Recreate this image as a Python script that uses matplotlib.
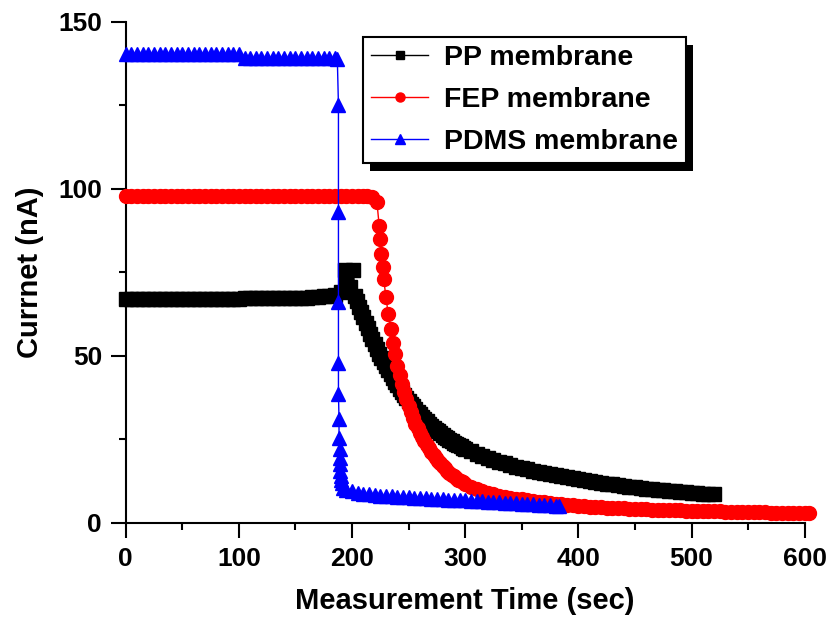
import numpy as np
import matplotlib
matplotlib.use('Agg')
import matplotlib.pyplot as plt
from matplotlib.patches import Rectangle
from matplotlib.ticker import MultipleLocator

# PP membrane (black squares)
pp_t = list(range(0, 191, 5)) + [194, 195, 198, 201, 203] + list(range(204, 301, 2)) + list(range(305, 521, 5))
pp_i = [67.0] * 21 + [67.2] * 10 + [67.3, 67.4, 67.5, 67.6, 67.8, 68.0, 68.3, 69.0] + \
       [75.6, 71.5, 70.5, 75.6, 68.0] + \
       [66.3, 64.7, 63.1, 61.5, 59.9, 58.3, 56.7, 55.1, 53.5, 52.1, 50.7, 49.4, 48.2, 47.0, 45.8,
        44.6, 43.4, 42.3, 41.2, 40.2, 39.3, 38.3, 37.4, 36.5, 35.7, 34.9, 34.1, 33.3, 32.5, 31.8,
        31.1, 30.4, 29.7, 29.1, 28.5, 27.9, 27.4, 26.8, 26.3, 25.8, 25.3, 24.9, 24.4, 24.0, 23.6,
        23.2, 22.9, 22.5, 22.2] + \
       [21.4, 20.7, 20.0, 19.4, 18.8, 18.3, 17.8, 17.3, 16.8, 16.4, 16.0, 15.6, 15.2, 14.9, 14.5,
        14.2, 13.9, 13.6, 13.3, 13.0, 12.7, 12.5, 12.2, 12.0, 11.7, 11.5, 11.3, 11.1, 10.9, 10.7,
        10.5, 10.3, 10.1, 10.0, 9.8, 9.7, 9.5, 9.4, 9.2, 9.1, 8.9, 8.8, 8.7, 8.6]

# FEP membrane (red circles)
fep_t = list(range(0, 211, 5)) + [213, 218, 222, 224, 225, 226, 227, 228, 230, 232, 234, 236, 238, 240] + \
        list(range(242, 301, 2)) + list(range(305, 601, 5)) + [604]
fep_i = [98.0] * 43 + [98.0, 97.5, 96.0, 89.0, 85.0, 80.5, 76.5, 73.0, 67.5, 62.5, 58.0, 54.0, 50.5, 47.0] + \
        [44.3, 41.7, 39.3, 37.1, 35.0, 33.1, 31.3, 29.7, 28.3, 27.0, 25.7, 24.5, 23.4, 22.3, 21.3,
         20.3, 19.4, 18.6, 17.8, 17.0, 16.3, 15.6, 15.0, 14.4, 13.9, 13.4, 12.9, 12.5, 12.1, 11.7] + \
        [10.9, 10.2, 9.6, 9.0, 8.6, 8.2, 7.9, 7.6, 7.3, 7.1, 6.8, 6.6, 6.4, 6.2, 6.0,
         5.8, 5.6, 5.4, 5.3, 5.1, 5.0, 4.9, 4.8, 4.7, 4.6, 4.5, 4.5, 4.4, 4.3, 4.2,
         4.2, 4.1, 4.0, 4.0, 3.9, 3.9, 3.8, 3.8, 3.7, 3.7, 3.6, 3.6, 3.5, 3.5, 3.5,
         3.4, 3.4, 3.3, 3.3, 3.3, 3.2, 3.2, 3.2, 3.1, 3.1, 3.1, 3.1, 3.0, 3.0, 3.0] + [3.0]

# PDMS membrane (blue triangles)
pdms_t = list(range(0, 101, 5)) + list(range(105, 186, 5)) + \
         [187, 188, 188, 188, 188, 188, 188.5, 188.5, 189, 189, 189, 189.5, 190, 190.5, 191, 192] + \
         list(range(195, 381, 5)) + [383]
pdms_i = [140.5] * 21 + [139.3] * 17 + \
         [139.0, 125.0, 93.0, 66.0, 48.0, 38.7, 31.2, 25.5, 22.0, 19.5, 17.5, 15.5, 14.0, 12.8, 11.8, 10.5] + \
         [10.0, 9.5, 9.1, 8.8, 8.6, 8.4, 8.2, 8.1, 8.0, 7.9, 7.8, 7.7, 7.6, 7.5, 7.4, 7.3, 7.2, 7.1, 7.0,
          6.9, 6.9, 6.8, 6.7, 6.6, 6.5, 6.4, 6.3, 6.2, 6.1, 6.0, 5.9, 5.8, 5.7, 5.6, 5.5, 5.4, 5.3, 5.2] + [5.2]

narrow = ['Liberation Sans Narrow', 'Liberation Sans', 'DejaVu Sans']
wide = ['Liberation Sans', 'DejaVu Sans']

fig, ax = plt.subplots(figsize=(8.27, 6.24), dpi=100)
fig.subplots_adjust(left=0.152, right=0.973, top=0.965, bottom=0.162)

ax.plot(pp_t, pp_i, color='black', marker='s', ms=9.5, lw=1, label='PP membrane', clip_on=False, zorder=3)
ax.plot(fep_t, fep_i, color='red', marker='o', ms=10, lw=1, label='FEP membrane', clip_on=False, zorder=3)
ax.plot(pdms_t, pdms_i, color='blue', marker='^', ms=10, lw=1, label='PDMS membrane', clip_on=False, zorder=3)

ax.set_xlim(0, 600)
ax.set_ylim(0, 150)
ax.xaxis.set_major_locator(MultipleLocator(100))
ax.xaxis.set_minor_locator(MultipleLocator(50))
ax.yaxis.set_major_locator(MultipleLocator(50))
ax.yaxis.set_minor_locator(MultipleLocator(25))

for s in ['top', 'right']:
    ax.spines[s].set_visible(False)
for s in ['left', 'bottom']:
    ax.spines[s].set_linewidth(1.5)

ax.tick_params(which='major', direction='out', length=11, width=1.5, pad=6)
ax.tick_params(which='minor', direction='out', length=5, width=1.5)
for lab in ax.get_xticklabels() + ax.get_yticklabels():
    lab.set_family(narrow)
    lab.set_fontweight('bold')
    lab.set_fontsize(19)

ax.set_xlabel('Measurement Time (sec)', family=narrow, fontweight='bold', fontsize=21, labelpad=12)
ax.set_ylabel('Currnet (nA)', family=narrow, fontweight='bold', fontsize=21, labelpad=10)

leg = ax.legend(loc='upper left', bbox_to_anchor=(0.349, 0.97), borderaxespad=0, fancybox=False,
                framealpha=1, edgecolor='black', prop={'family': wide, 'weight': 'bold', 'size': 20.5},
                handlelength=2.0, handletextpad=0.55, borderpad=0.3, labelspacing=0.55, markerscale=0.65)
leg.get_frame().set_linewidth(1.5)
leg.set_zorder(6)

# black drop shadow behind the legend box
fig.canvas.draw()
bb = leg.get_window_extent().transformed(ax.transAxes.inverted())
dx = 7 / ax.bbox.width
dy = 8 / ax.bbox.height
ax.add_patch(Rectangle((bb.x0 + dx, bb.y0 - dy), bb.width, bb.height, transform=ax.transAxes,
                       facecolor='black', edgecolor='none', zorder=5.5, clip_on=False))

fig.savefig('out.png', dpi=100)
